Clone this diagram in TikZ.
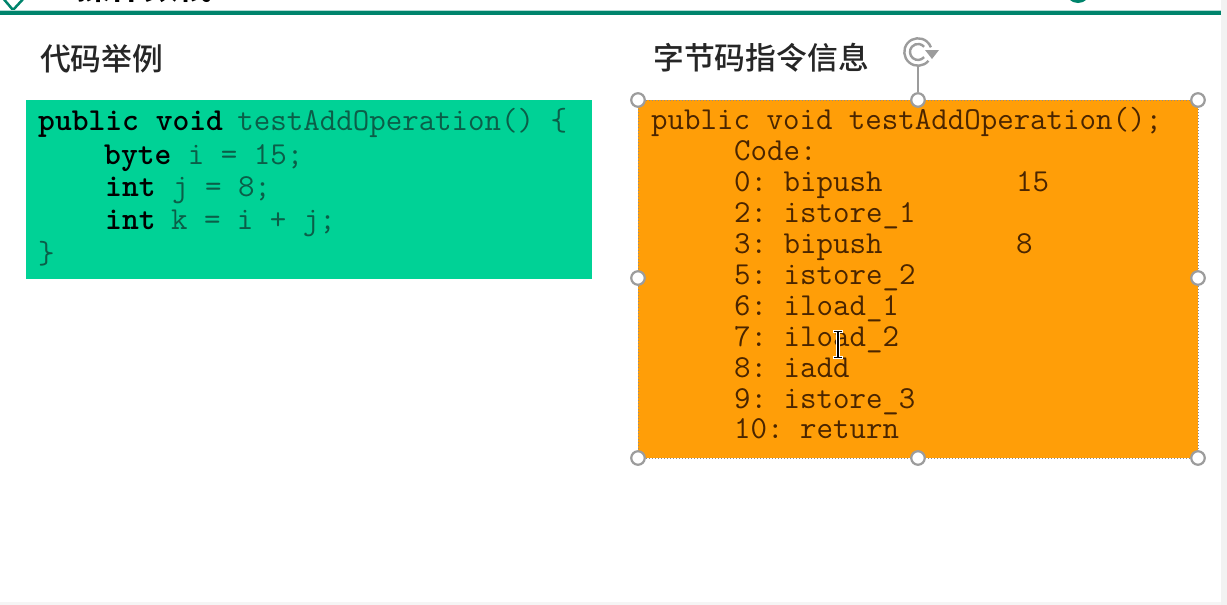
\documentclass[tikz,border=0pt]{standalone}
\usepackage{fontspec}
\newfontfamily\cjk{Noto Sans CJK SC Medium}
\newfontfamily\cjkb{Noto Sans CJK SC Bold}
\usetikzlibrary{calc}
\definecolor{teal}{HTML}{00846C}
\definecolor{greenbox}{HTML}{00D296}
\definecolor{orangebox}{HTML}{FF9E08}
\definecolor{greentxt}{HTML}{0B5E48}
\definecolor{browntxt}{HTML}{4A2500}
\definecolor{handle}{HTML}{9C9C9C}
\tikzset{
  x=1pt,y=-1pt,
  codeo/.style={anchor=base west,inner sep=0pt,font=\fontsize{32}{33}\selectfont\ttfamily\frenchspacing,text=browntxt},
  codeg/.style={anchor=base west,inner sep=0pt,font=\fontsize{32}{33}\selectfont\ttfamily\frenchspacing,text=greentxt},
  title/.style={anchor=base west,inner sep=0pt,font=\fontsize{30.8}{32}\selectfont\cjk,text=black!85},
  hnd/.style={circle,draw=handle,line width=2.2pt,fill=white,minimum size=13.5pt,inner sep=0pt},
}
\newcommand{\kw}[1]{\textcolor{black}{\textbf{#1}}}
\begin{document}
\begin{tikzpicture}
\useasboundingbox (0,0) rectangle (1227,605);
\fill[white] (0,0) rectangle (1227,605);
% window edge
\fill[black!5] (1221,0) rectangle (1227,605);
\fill[black!4] (0,602) rectangle (1221,605);
% header, cut off by the top edge
\begin{scope}
\clip (0,0) rectangle (1221,12);
\node[title,font=\fontsize{34}{36}\selectfont\cjkb,text=black] (head) at (76,0) {操作数栈};
\draw[teal,line width=2.5pt] (2,-3) -- (13,10) -- (25,-3);
\draw[teal,line width=3pt] (1078,-9.5) circle (11);
\end{scope}
\fill[teal] (0,10.5) rectangle (1221,15);
\fill[teal!30] (0,9.5) rectangle (1221,10.5);
% titles
\node[title] (t1) at (40,70) {代码举例};
\node[title] (t2) at (653,69) {字节码指令信息};
% green box
\fill[greenbox] (26,100) rectangle (592,279);
\node[codeg] (g1) at (38,130) {\kw{public void}\hspace{-2pt} testAddOperation() \{};
\node[codeg] (g2) at (104,164) {\kw{byte} i = 15;};
\node[codeg] (g3) at (105,196) {\kw{int} j = 8;};
\node[codeg] (g4) at (105,229) {\kw{int}\hspace{-1pt} k = i + j;};
\node[codeg] (g5) at (38,263) {\}};
% orange box
\fill[orangebox] (638,100) rectangle (1198,458);
\draw[black!45,line width=1pt,dotted] (638,100) rectangle (1198,458);
\node[codeo] (o0) at (651,129) {public void testAddOperation();};
\node[codeo] (o1) at (734,160) {Code:};
\node[codeo] (o2) at (734,191) {0: bipush};
\node[codeo] (o2b) at (1016,191) {15};
\node[codeo] (o3) at (734,222) {2: istore\_1};
\node[codeo] (o4) at (734,253) {3: bipush};
\node[codeo] (o4b) at (1016,253) {8};
\node[codeo] (o5) at (734,284) {5: istore\_2};
\node[codeo] (o6) at (734,315) {6: iload\_1};
\node[codeo] (o7) at (734,346) {7: iload\_2};
\node[codeo] (o8) at (734,377) {8: iadd};
\node[codeo] (o9) at (734,408) {9: istore\_3};
\node[codeo] (o10) at (734,438) {10: return};
% text cursor
\draw[white,line width=3.2pt] (838,331) -- (838,358) (833,331.5) -- (843,331.5) (833,357.5) -- (843,357.5);
\draw[black,line width=1.6pt] (838,331) -- (838,358) (834,331.5) -- (842,331.5) (834,357.5) -- (842,357.5);
% rotate handle
\coordinate (rot) at (918,66);
\node[hnd] (h1) at (638,100) {};
\node[hnd] (h2) at (918,100) {};
\node[hnd] (h3) at (1198,100) {};
\node[hnd] (h4) at (638,278) {};
\node[hnd] (h5) at (1198,278) {};
\node[hnd] (h6) at (638,458) {};
\node[hnd] (h7) at (918,458) {};
\node[hnd] (h8) at (1198,458) {};
\draw[handle,line width=1.3pt] (rot) -- (h2);
\draw[handle,line width=2.4pt] (928.5,60.8) arc[start angle=40,end angle=340,radius=13.7];
\draw[handle,line width=2.4pt] (924.1,57.1) arc[start angle=40,end angle=320,radius=8];
\fill[handle] (939,50) -- (925,50) -- (932,59) -- cycle;
\end{tikzpicture}
\end{document}
